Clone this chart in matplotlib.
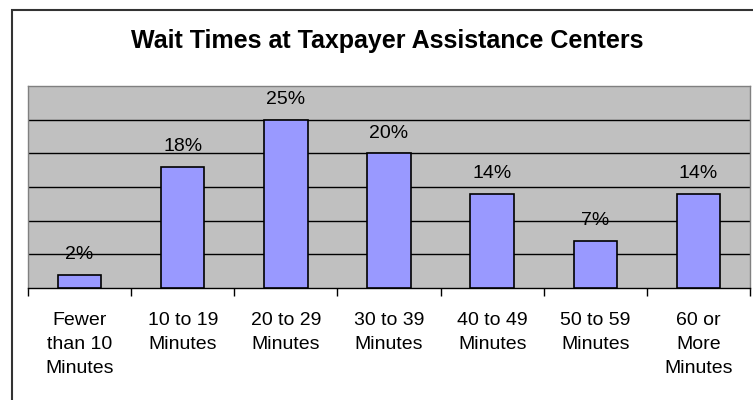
import matplotlib.pyplot as plt
import numpy as np
from matplotlib.patches import Rectangle

categories = ["Fewer\nthan 10\nMinutes", "10 to 19\nMinutes", "20 to 29\nMinutes",
              "30 to 39\nMinutes", "40 to 49\nMinutes", "50 to 59\nMinutes",
              "60 or\nMore\nMinutes"]
values = [2, 18, 25, 20, 14, 7, 14]
title = "Wait Times at Taxpayer Assistance Centers"

plt.rcParams['font.family'] = ['Liberation Sans', 'DejaVu Sans']

W, H = 753, 400
fig = plt.figure(figsize=(W / 100, H / 100), dpi=100)

# outer chart border (right/bottom edges run off the image)
fig.patches.append(Rectangle((12 / W, 0 - 0.02), 1.0, (H - 10) / H + 0.02,
                             transform=fig.transFigure, fill=False,
                             edgecolor='#333333', linewidth=1.5))

# plot area: x 28..750, y 86..288 (pixels from top)
ax = fig.add_axes([28 / W, 1 - 288 / H, (750 - 28) / W, (288 - 86) / H])
ax.set_facecolor('#C0C0C0')

x = np.arange(len(values))
ax.bar(x, values, width=0.42, color='#9999FF', edgecolor='black', linewidth=1.2, zorder=3)
for xi, v in zip(x, values):
    ax.text(xi, v + 2.3, f"{v}%", ha='center', va='baseline', fontsize=14, zorder=4)

ax.set_xlim(-0.5, len(values) - 0.5)
ax.set_ylim(0, 30)
ax.set_yticks(np.arange(5, 30, 5))
ax.yaxis.grid(True, color='black', linewidth=1, zorder=1)
ax.tick_params(axis='y', left=False, labelleft=False)

ax.set_xticks(x)
ax.set_xticklabels(categories, fontsize=14, linespacing=1.55)
ax.set_xticks(np.arange(-0.5, len(values), 1), minor=True)
ax.tick_params(axis='x', which='major', length=0, pad=17)
ax.tick_params(axis='x', which='minor', length=6, width=1, color='black', direction='out')

for side in ['top', 'left', 'right']:
    ax.spines[side].set_color('#808080')
    ax.spines[side].set_linewidth(1)
ax.spines['bottom'].set_color('black')
ax.spines['bottom'].set_linewidth(1)

fig.text(387 / W, 1 - 48 / H, title, ha='center', va='baseline',
         fontsize=18, fontweight='bold')

fig.savefig('out.png', dpi=100)
